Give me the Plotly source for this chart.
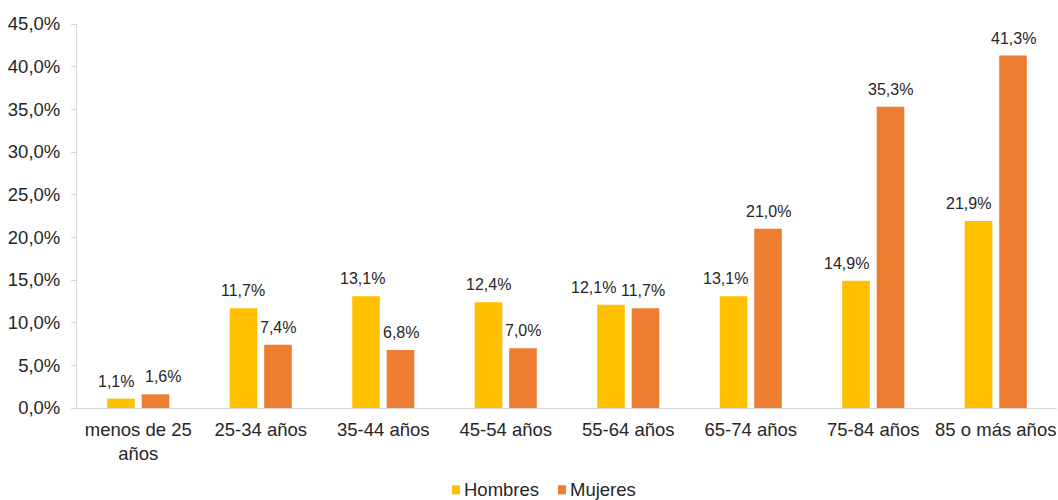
import plotly.graph_objects as go

categories = ["menos de 25<br>años", "25-34 años", "35-44 años", "45-54 años",
              "55-64 años", "65-74 años", "75-84 años", "85 o más años"]
hombres = [1.1, 11.7, 13.1, 12.4, 12.1, 13.1, 14.9, 21.9]
mujeres = [1.6, 7.4, 6.8, 7.0, 11.7, 21.0, 35.3, 41.3]
series_names = ["Hombres", "Mujeres"]

# small horizontal nudges (px) of the value labels, as placed in the reference
hombres_label_nudge = [-5, 0, -3, 0, -17.5, -8, -9, -10]
mujeres_label_nudge = [7, 0, 0, 0, -2.5, 0, 0, 0]

FONT = "Liberation Sans, Arial, sans-serif"
TXT = "#262626"
COL_H = "#FFC000"
COL_M = "#ED7D31"

fig = go.Figure()
fig.add_trace(go.Bar(name=series_names[0], x=categories, y=hombres, marker_color=COL_H,
                     marker_line_width=0, showlegend=False))
fig.add_trace(go.Bar(name=series_names[1], x=categories, y=mujeres, marker_color=COL_M,
                     marker_line_width=0, showlegend=False))

BAR_OFFSET = 17.5  # px from category centre to each bar centre
for vals, sign, nudge in [(hombres, -1, hombres_label_nudge), (mujeres, 1, mujeres_label_nudge)]:
    for i, c in enumerate(categories):
        fig.add_annotation(x=c, y=vals[i], xref="x", yref="y",
                           text=f"{vals[i]:.1f}%".replace(".", ","),
                           showarrow=False, xanchor="center", yanchor="bottom",
                           xshift=sign * BAR_OFFSET + nudge[i], yshift=7,
                           font=dict(size=16, color=TXT, family=FONT))

# legend drawn as small squares + text below the plot (paper coordinates)
legend_items = [(series_names[0], COL_H, 0.3827), (series_names[1], COL_M, 0.4908)]
SQ_W = 0.0082
LEG_Y = -0.213
for name, col, x0 in legend_items:
    fig.add_shape(type="rect", xref="paper", yref="paper",
                  x0=x0, x1=x0 + SQ_W, y0=LEG_Y - 0.0118, y1=LEG_Y + 0.0117,
                  fillcolor=col, line_width=0)
    fig.add_annotation(xref="paper", yref="paper", x=x0 + SQ_W + 0.003, y=LEG_Y,
                       text=name, showarrow=False, xanchor="left", yanchor="middle",
                       font=dict(size=18.5, color=TXT, family=FONT), borderpad=0)

fig.update_layout(
    width=1058, height=500,
    barmode="group", bargap=0.437, bargroupgap=0.2,
    separators=",.",
    plot_bgcolor="white", paper_bgcolor="white",
    margin=dict(l=77, r=1, t=24, b=92, autoexpand=False),
    font=dict(family=FONT, size=18.5, color=TXT),
    showlegend=False,
)
fig.update_yaxes(range=[0, 45], dtick=5, tickformat=".1f", ticksuffix="%",
                 showgrid=False, showline=True, linecolor="#D9D9D9", linewidth=1,
                 ticks="outside", ticklen=5, tickcolor="#D9D9D9", zeroline=False,
                 tickfont=dict(size=18.5), automargin=False, ticklabelstandoff=7)
fig.update_xaxes(showgrid=False, showline=True, linecolor="#D9D9D9", linewidth=1,
                 ticks="", tickfont=dict(size=18.5), automargin=False,
                 ticklabelstandoff=5)

fig.write_html("out.html", config={"displayModeBar": False},
               post_script="document.body.style.margin='0';")
